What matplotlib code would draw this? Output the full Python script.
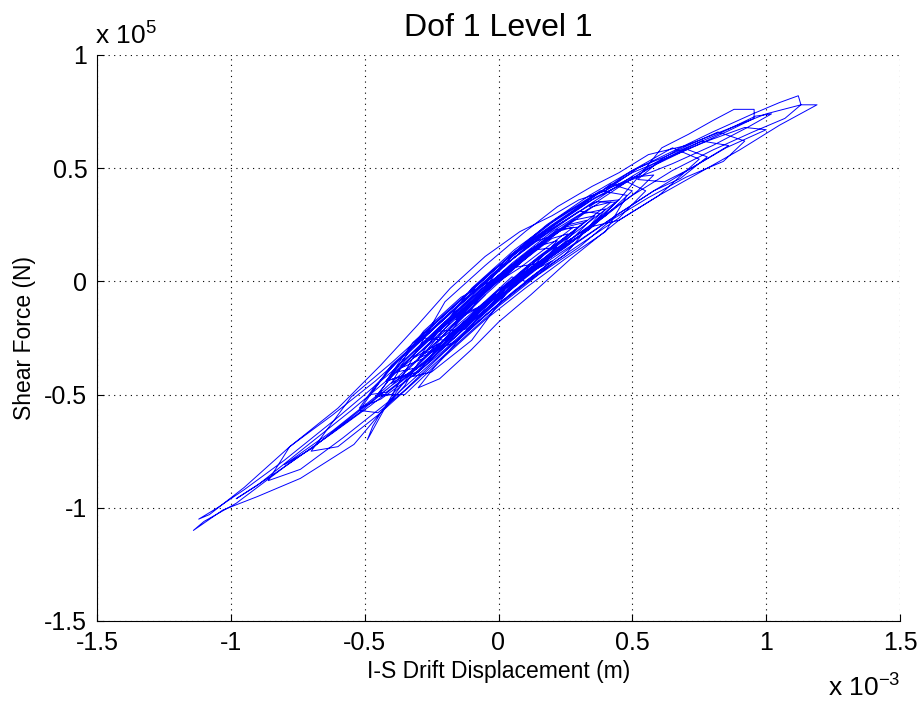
import matplotlib
matplotlib.use('Agg')
import matplotlib.pyplot as plt

plt.rcParams['font.family'] = ['Liberation Sans', 'DejaVu Sans']
plt.rcParams['mathtext.fontset'] = 'custom'
plt.rcParams['mathtext.rm'] = 'Liberation Sans'
plt.rcParams['mathtext.default'] = 'regular'

# drift in 1e-3 m, shear in 1e5 N
cyc_a_x = [0.00, 0.08, 0.18, 0.28, 0.22, 0.10, -0.05, -0.18, -0.30, -0.36, -0.28, -0.15, 0.00, 0.12, 0.25, 0.33, 0.26, 0.12, -0.02, -0.15, -0.26, -0.20, -0.06]
cyc_a_y = [0.00, 0.06, 0.15, 0.24, 0.22, 0.12, -0.04, -0.17, -0.30, -0.38, -0.34, -0.20, -0.05, 0.08, 0.19, 0.27, 0.25, 0.14, 0.00, -0.14, -0.26, -0.24, -0.10]

cyc_b_x = [0.10, 0.25, 0.40, 0.52, 0.58, 0.50, 0.36, 0.20, 0.05, -0.10, -0.25, -0.40, -0.48, -0.42, -0.30, -0.15, 0.00, 0.15]
cyc_b_y = [0.03, 0.15, 0.29, 0.40, 0.47, 0.46, 0.38, 0.26, 0.12, -0.04, -0.20, -0.38, -0.50, -0.49, -0.38, -0.22, -0.08, 0.07]

cyc_c_x = [0.30, 0.45, 0.55, 0.61, 0.71, 0.80, 0.88, 0.955, 0.955, 0.85, 0.70, 0.56, 0.48, 0.36, 0.22, 0.08, -0.05, -0.20, -0.35, -0.46, -0.52, -0.44, -0.30]
cyc_c_y = [0.20, 0.36, 0.50, 0.59, 0.65, 0.71, 0.76, 0.76, 0.72, 0.66, 0.58, 0.50, 0.44, 0.37, 0.26, 0.14, 0.00, -0.16, -0.32, -0.46, -0.56, -0.52, -0.40]

cyc_d_x = [-0.15, -0.05, 0.10, 0.20, 0.12, -0.05, -0.22, -0.40, -0.60, -0.80, -0.95, -1.05, -1.12, -1.08, -0.95, -0.78, -0.60, -0.44, -0.30, -0.18, -0.05, 0.08, 0.20, 0.30]
cyc_d_y = [-0.18, -0.06, 0.10, 0.20, 0.17, -0.01, -0.20, -0.40, -0.60, -0.79, -0.92, -1.00, -1.05, -1.03, -0.91, -0.73, -0.56, -0.37, -0.19, -0.03, 0.11, 0.22, 0.29, 0.36]

cyc_e_x = [0.40, 0.52, 0.66, 0.80, 0.95, 1.05, 1.12, 1.13, 1.07, 0.95, 0.80, 0.65, 0.50, 0.38, 0.25, 0.10, -0.05, -0.20, -0.32, -0.25, -0.10]
cyc_e_y = [0.40, 0.50, 0.58, 0.66, 0.74, 0.79, 0.82, 0.78, 0.72, 0.66, 0.58, 0.49, 0.38, 0.28, 0.17, 0.02, -0.14, -0.30, -0.42, -0.40, -0.26]

cyc_f_x = [0.05, 0.15, 0.05, -0.10, -0.22, -0.35, -0.44, -0.54, -0.74, -0.90, -1.03, -1.14, -1.10, -0.98, -0.80, -0.62, -0.48, -0.36, -0.22, -0.10, 0.02, -0.12, -0.24, -0.30]
cyc_f_y = [-0.02, 0.08, 0.06, -0.10, -0.26, -0.44, -0.58, -0.72, -0.87, -0.95, -1.01, -1.10, -1.06, -0.98, -0.82, -0.67, -0.55, -0.44, -0.30, -0.17, -0.04, -0.22, -0.38, -0.47]

cyc_g_x = [-0.22, -0.10, 0.00, 0.12, 0.27, 0.45, 0.60, 0.75, 0.90, 1.05, 1.19, 1.13, 1.00, 0.85, 0.70, 0.56, 0.45, 0.35, 0.22, 0.10, -0.05, -0.20, -0.35, -0.42, -0.49, -0.47, -0.44, -0.35]
cyc_g_y = [-0.43, -0.30, -0.18, -0.06, 0.10, 0.27, 0.38, 0.48, 0.58, 0.69, 0.78, 0.78, 0.74, 0.67, 0.60, 0.56, 0.48, 0.42, 0.33, 0.22, 0.07, -0.09, -0.40, -0.55, -0.70, -0.64, -0.58, -0.46]

cyc_h_x = [-0.30, -0.15, 0.00, 0.15, 0.30, 0.42, 0.35, 0.20, 0.05, -0.10, -0.25, -0.38, -0.30, -0.12, 0.05, 0.20, 0.32, 0.25, 0.08, -0.08, -0.22, -0.32, -0.20, -0.02, 0.15, 0.28, 0.38, 0.45, 0.36, 0.18, 0.00, -0.18, -0.34, -0.42, -0.30, -0.12, 0.06, 0.22, 0.14, -0.02, -0.16, -0.08, 0.05]
cyc_h_y = [-0.36, -0.20, -0.04, 0.11, 0.24, 0.35, 0.33, 0.22, 0.08, -0.08, -0.24, -0.40, -0.38, -0.18, 0.00, 0.15, 0.26, 0.24, 0.09, -0.08, -0.23, -0.34, -0.26, -0.06, 0.10, 0.21, 0.30, 0.36, 0.35, 0.22, 0.05, -0.14, -0.32, -0.44, -0.40, -0.20, -0.01, 0.15, 0.14, -0.02, -0.17, -0.12, 0.02]

cyc_i_x = [0.10, 0.28, 0.45, 0.58, 0.72, 0.85, 1.00, 0.92, 0.78, 0.62, 0.50, 0.40, 0.50, 0.65, 0.80, 0.93, 1.02, 0.96, 0.82, 0.66, 0.50, 0.34, 0.18, 0.02]
cyc_i_y = [0.00, 0.16, 0.30, 0.40, 0.50, 0.59, 0.67, 0.68, 0.62, 0.54, 0.48, 0.41, 0.45, 0.52, 0.60, 0.68, 0.74, 0.73, 0.65, 0.57, 0.49, 0.38, 0.25, 0.09]

cyc_j_x = [-0.10, -0.28, -0.45, -0.62, -0.80, -0.70, -0.55, -0.40, -0.52, -0.68, -0.85, -0.98, -0.90, -0.72, -0.55, -0.38, -0.20, -0.05]
cyc_j_y = [-0.12, -0.32, -0.50, -0.66, -0.81, -0.74, -0.60, -0.46, -0.58, -0.72, -0.86, -0.96, -0.90, -0.73, -0.57, -0.40, -0.22, -0.06]

cyc_k_x = [-0.40, -0.25, -0.10, 0.05, 0.20, 0.35, 0.44, 0.38, 0.25, 0.10, -0.05, -0.20, -0.35, -0.46, -0.40, -0.28, -0.12, 0.02, 0.18, 0.30, 0.22, 0.08, -0.06, -0.20, -0.30]
cyc_k_y = [-0.46, -0.34, -0.18, -0.02, 0.11, 0.24, 0.35, 0.35, 0.25, 0.12, -0.02, -0.18, -0.35, -0.51, -0.50, -0.37, -0.20, -0.05, 0.09, 0.24, 0.23, 0.10, -0.03, -0.18, -0.34]

cyc_l_x = [-0.15, 0.00, 0.15, 0.30, 0.45, 0.55, 0.48, 0.35, 0.20, 0.05, -0.10, -0.25, -0.40, -0.52, -0.45, -0.35, -0.20, -0.05, 0.10, 0.25, 0.38, 0.30, 0.15, 0.00, -0.15, -0.28]
cyc_l_y = [-0.26, -0.10, 0.04, 0.16, 0.28, 0.40, 0.44, 0.36, 0.24, 0.11, -0.05, -0.21, -0.37, -0.57, -0.58, -0.48, -0.31, -0.15, -0.01, 0.12, 0.30, 0.31, 0.19, 0.05, -0.11, -0.25]

cyc_m_x = [-0.20, -0.08, 0.05, 0.18, 0.26, 0.20, 0.08, -0.05, -0.18, -0.28, -0.22, -0.10, 0.02, 0.14, 0.22, 0.16, 0.04, -0.08, -0.16]
cyc_m_y = [-0.26, -0.14, 0.00, 0.11, 0.21, 0.19, 0.08, -0.04, -0.18, -0.32, -0.29, -0.16, -0.03, 0.08, 0.18, 0.16, 0.05, -0.08, -0.16]

cyc_n_x = [-0.05, 0.10, 0.25, 0.40, 0.50, 0.42, 0.28, 0.12, -0.02, -0.18, -0.32, -0.42, -0.34, -0.20, -0.06, 0.08, 0.22, 0.34]
cyc_n_y = [-0.10, 0.04, 0.17, 0.29, 0.40, 0.43, 0.31, 0.18, 0.05, -0.12, -0.27, -0.44, -0.41, -0.26, -0.11, 0.02, 0.15, 0.24]

cyc_o_x = [0.45, 0.60, 0.75, 0.65, 0.50, 0.35, 0.20, 0.05, -0.10, -0.25, -0.40, -0.55, -0.70, -0.60, -0.45, -0.30, -0.15, 0.00, 0.15, 0.30]
cyc_o_y = [0.27, 0.38, 0.54, 0.59, 0.49, 0.37, 0.25, 0.12, -0.04, -0.20, -0.36, -0.51, -0.75, -0.73, -0.59, -0.43, -0.27, -0.11, 0.03, 0.15]

cyc_p_x = [0.42, 0.56, 0.70, 0.84, 0.92, 0.82, 0.66, 0.50, 0.34, 0.18, 0.02, -0.14, -0.30, -0.46, -0.62, -0.78, -0.86, -0.74, -0.58, -0.42, -0.26, -0.10, 0.06, 0.20]
cyc_p_y = [0.27, 0.37, 0.46, 0.53, 0.62, 0.66, 0.575, 0.465, 0.34, 0.21, 0.07, -0.10, -0.27, -0.44, -0.59, -0.73, -0.88, -0.83, -0.69, -0.54, -0.37, -0.20, -0.04, 0.09]

cyc_q_x = [0.10, 0.22, 0.34, 0.40, 0.32, 0.18, 0.04, -0.10, -0.24, -0.36, -0.40, -0.30, -0.16, -0.02, 0.12, 0.26, 0.36, 0.28, 0.14, 0.00]
cyc_q_y = [0.03, 0.14, 0.23, 0.32, 0.30, 0.18, 0.06, -0.09, -0.24, -0.37, -0.45, -0.38, -0.23, -0.08, 0.05, 0.17, 0.29, 0.27, 0.15, 0.02]

cyc_r_x = [-0.14, -0.28, -0.45, -0.35, -0.20, -0.05, 0.10, 0.25, 0.40, 0.48, 0.38, 0.22, 0.06, -0.10, -0.22, -0.12, 0.02, 0.16, 0.30]
cyc_r_y = [-0.07, -0.22, -0.50, -0.50, -0.33, -0.17, -0.03, 0.10, 0.22, 0.38, 0.40, 0.28, 0.14, -0.03, -0.22, -0.21, -0.06, 0.07, 0.18]

cyc_s_x = [0.30, 0.45, 0.58, 0.68, 0.78, 0.70, 0.60, 0.52, 0.62, 0.72, 0.86, 0.76, 0.62, 0.48, 0.34]
cyc_s_y = [0.18, 0.30, 0.40, 0.455, 0.55, 0.585, 0.53, 0.45, 0.44, 0.50, 0.60, 0.62, 0.54, 0.44, 0.33]

drift = (cyc_a_x + cyc_b_x + cyc_c_x + cyc_d_x + cyc_e_x + cyc_f_x + cyc_g_x + cyc_h_x + cyc_i_x + cyc_j_x
         + cyc_k_x + cyc_l_x + cyc_m_x + cyc_n_x + cyc_o_x + cyc_p_x + cyc_q_x + cyc_r_x + cyc_s_x)
shear = (cyc_a_y + cyc_b_y + cyc_c_y + cyc_d_y + cyc_e_y + cyc_f_y + cyc_g_y + cyc_h_y + cyc_i_y + cyc_j_y
         + cyc_k_y + cyc_l_y + cyc_m_y + cyc_n_y + cyc_o_y + cyc_p_y + cyc_q_y + cyc_r_y + cyc_s_y)

xticks = [-1.5, -1, -0.5, 0, 0.5, 1, 1.5]
yticks = [-1.5, -1, -0.5, 0, 0.5, 1]

fig = plt.figure(figsize=(9.19, 7.03), dpi=100)
ax = fig.add_axes([97/919, 1 - 621/703, (900 - 97)/919, (621 - 55)/703])

ax.plot(drift, shear, color='#0000ff', linewidth=0.7)

ax.set_xlim(-1.5, 1.5)
ax.set_ylim(-1.5, 1)
ax.set_xticks(xticks)
ax.set_yticks(yticks)
ax.set_xticklabels(['-1.5', '-1', '-0.5', '0', '0.5', '1', '1.5'])
ax.set_yticklabels(['-1.5', '-1', '-0.5', '0', '0.5', '1'])
ax.tick_params(direction='in', length=5, width=0.8, labelsize=18, pad=7)
ax.grid(True, color='black', linestyle=(0, (1, 4)), linewidth=0.8)
ax.spines['top'].set_visible(False)
ax.spines['right'].set_visible(False)

ax.set_xlabel('I-S Drift Displacement (m)', fontsize=16.5, labelpad=4)
ax.set_ylabel('Shear Force (N)', fontsize=16.5, labelpad=6)
ax.set_title('Dof 1 Level 1', fontsize=23, pad=14)

fig.text(95/919, 1 - 45/703, r'x 10$^{5}$', fontsize=19)
fig.text(828/919, 1 - 697/703, r'x 10$^{-3}$', fontsize=19)

plt.savefig('out.png', dpi=100)
